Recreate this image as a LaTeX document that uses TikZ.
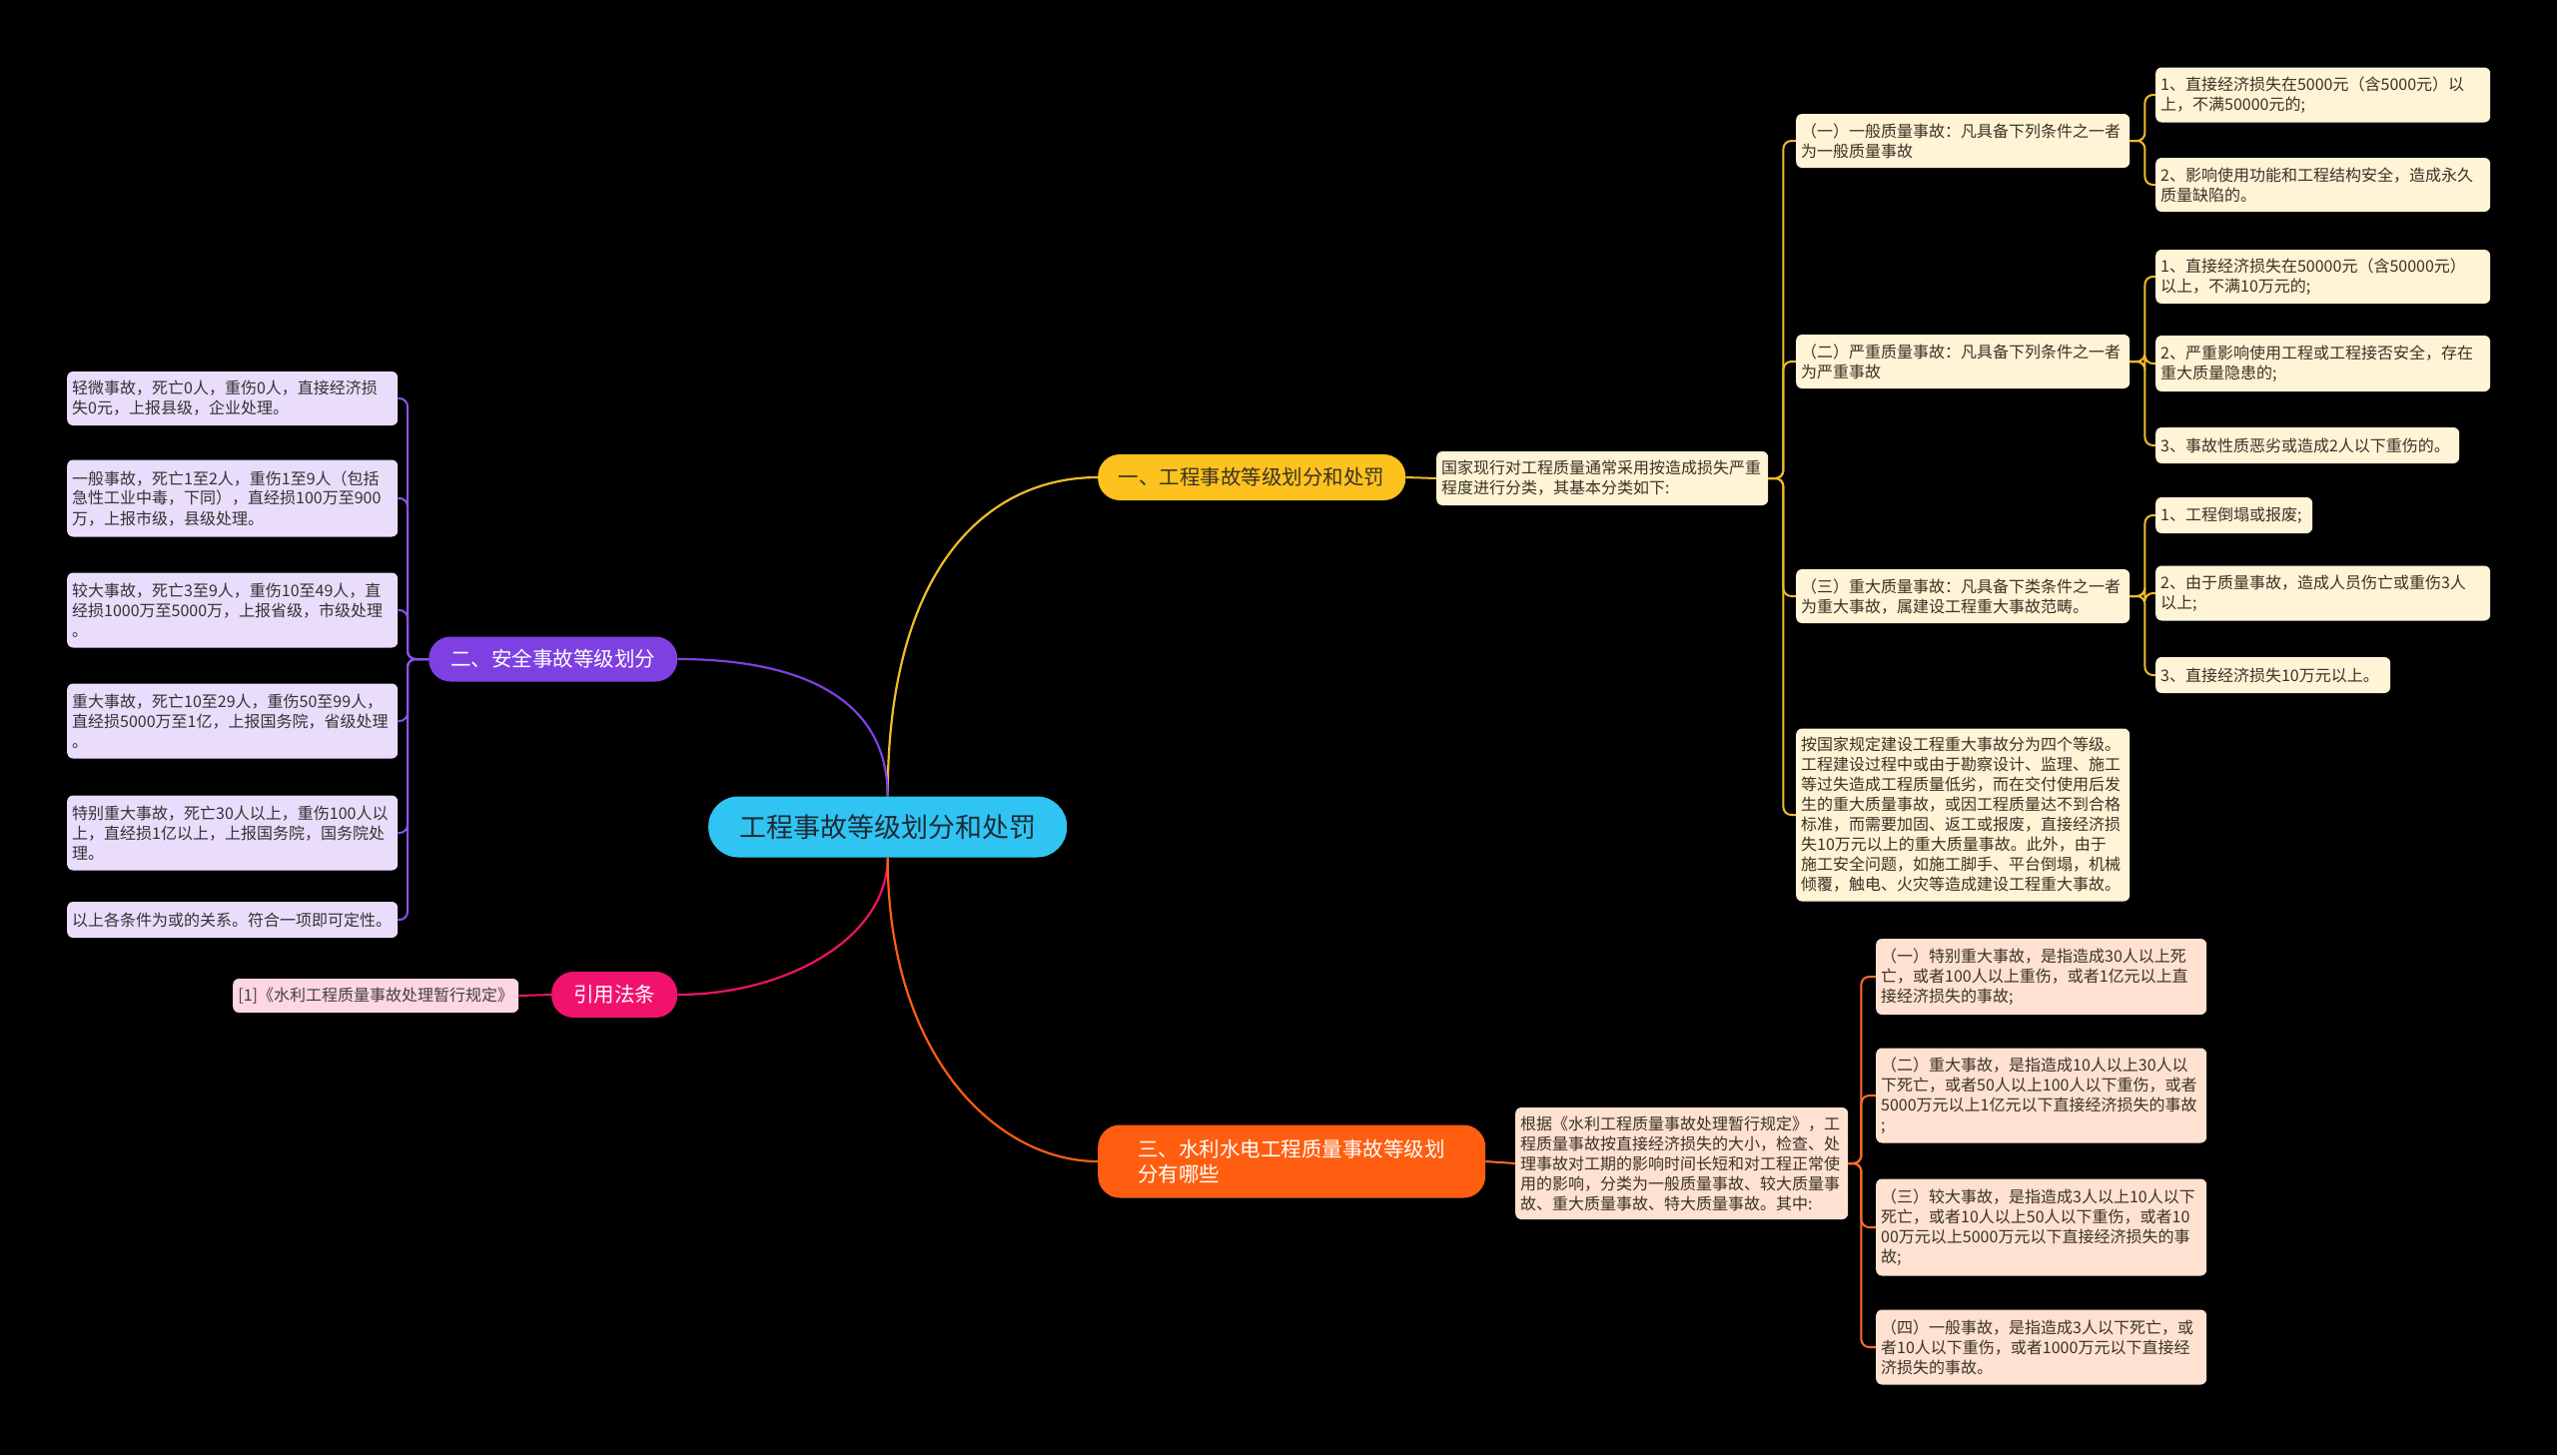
\documentclass[tikz,border=0pt]{standalone}
\usepackage{fontspec}
\setmainfont{Noto Sans CJK SC}
\usepackage{xcolor}
\usepackage{tikz}
\usetikzlibrary{positioning}
\definecolor{sky}{HTML}{30C4F2}
\definecolor{skyink}{HTML}{1C2B36}
\definecolor{gold}{HTML}{FDC21E}
\definecolor{goldline}{HTML}{F0BC2A}
\definecolor{cream}{HTML}{FFF4D5}
\definecolor{violet}{HTML}{7E40E2}
\definecolor{lilac}{HTML}{E9DDFB}
\definecolor{rose}{HTML}{F0126C}
\definecolor{blush}{HTML}{FFD6E4}
\definecolor{tangerine}{HTML}{FF5E10}
\definecolor{peach}{HTML}{FFE1D1}
\definecolor{ink}{HTML}{3A3226}
\tikzset{
  font=\fontsize{16}{20}\selectfont,
  root/.style    = {anchor=west, fill=sky, rounded corners=30pt, text=skyink,
                    minimum height=61pt, minimum width=359pt,
                    font=\fontsize{27}{32}\selectfont},
  branch/.style  = {anchor=west, rounded corners=22pt, align=left, inner xsep=0pt,
                    font=\fontsize{20.5}{25}\selectfont},
  leaf/.style    = {anchor=west, rounded corners=6pt, align=left, inner xsep=5pt,
                    inner ysep=2pt, text=ink},
  yleaf/.style   = {leaf, fill=cream},
  pleaf/.style   = {leaf, fill=lilac, text=black!80},
  kleaf/.style   = {leaf, fill=blush, align=center},
  oleaf/.style   = {leaf, fill=peach},
  ylink/.style   = {draw=goldline, line width=2pt, rounded corners=8pt},
  plink/.style   = {draw=violet!90!white, line width=2pt, rounded corners=8pt},
  klink/.style   = {draw=rose, line width=2pt},
  olink/.style   = {draw=tangerine!90!white, line width=2pt, rounded corners=8pt},
}

\begin{document}
\begin{tikzpicture}[x=1pt, y=-1pt]

\fill[black] (0,0) rectangle (2560,1457);
\useasboundingbox (0,0) rectangle (2560,1457);

% ---------------- centre ----------------------------------------------
\node[root] (root) at (709,828) {工程事故等级划分和处罚};

% ---------------- branch one: quality accidents -----------------------
\node[branch, fill=gold, text=ink, minimum width=308pt, minimum height=46pt] (l1a) at (1099,478)
  {一、工程事故等级划分和处罚};
\node[yleaf, text width=322pt, minimum height=54pt] (ydesc) at (1438,479)
  {国家现行对工程质量通常采用按造成损失严重\\程度进行分类，其基本分类如下:};

\node[yleaf, text width=324pt, minimum height=54pt] (ya) at (1798,141)
  {（一）一般质量事故：凡具备下列条件之一者\\为一般质量事故};
\node[yleaf, text width=324pt, minimum height=54pt] (yb) at (1798,362)
  {（二）严重质量事故：凡具备下列条件之一者\\为严重事故};
\node[yleaf, text width=324pt, minimum height=54pt] (yc) at (1798,597)
  {（三）重大质量事故：凡具备下类条件之一者\\为重大事故，属建设工程重大事故范畴。};
\node[yleaf, text width=324pt, minimum height=173pt] (yd) at (1798,816)
  {按国家规定建设工程重大事故分为四个等级。\\工程建设过程中或由于勘察设计、监理、施工\\等过失造成工程质量低劣，而在交付使用后发\\生的重大质量事故，或因工程质量达不到合格\\标准，而需要加固、返工或报废，直接经济损\\失10万元以上的重大质量事故。此外，由于\\施工安全问题，如施工脚手、平台倒塌，机械\\倾覆，触电、火灾等造成建设工程重大事故。};

\node[yleaf, text width=325pt, minimum height=55pt] (ya1) at (2158,95)
  {1、直接经济损失在5000元（含5000元）以\\上，不满50000元的;};
\node[yleaf, text width=325pt, minimum height=54pt] (ya2) at (2158,185)
  {2、影响使用功能和工程结构安全，造成永久\\质量缺陷的。};
\node[yleaf, text width=325pt, minimum height=54pt] (yb1) at (2158,277)
  {1、直接经济损失在50000元（含50000元）\\以上，不满10万元的;};
\node[yleaf, text width=325pt, minimum height=56pt] (yb2) at (2158,364)
  {2、严重影响使用工程或工程接否安全，存在\\重大质量隐患的;};
\node[yleaf, text width=294pt, minimum height=36pt] (yb3) at (2158,446)
  {3、事故性质恶劣或造成2人以下重伤的。};
\node[yleaf, text width=147pt, minimum height=36pt] (yc1) at (2158,516)
  {1、工程倒塌或报废;};
\node[yleaf, text width=325pt, minimum height=55pt] (yc2) at (2158,594)
  {2、由于质量事故，造成人员伤亡或重伤3人\\以上;};
\node[yleaf, text width=225pt, minimum height=36pt] (yc3) at (2158,676)
  {3、直接经济损失10万元以上。};

\draw[ylink] (l1a.east) -- (ydesc.west);
\foreach \n in {ya,yb,yc,yd}
  \draw[ylink] (ydesc.east) -- ++(15,0) |- (\n.west);
\foreach \n in {ya1,ya2}
  \draw[ylink] (ya.east) -- ++(15,0) |- (\n.west);
\foreach \n in {yb1,yb2,yb3}
  \draw[ylink] (yb.east) -- ++(15,0) |- (\n.west);
\foreach \n in {yc1,yc2,yc3}
  \draw[ylink] (yc.east) -- ++(15,0) |- (\n.west);

% ---------------- branch two: safety accidents ------------------------
\node[branch, fill=violet, text=white, minimum width=249pt, minimum height=45pt] (l1b) at (429,660)
  {二、安全事故等级划分};

\node[pleaf, text width=321pt, minimum height=54pt] (p1) at (67,399)
  {轻微事故，死亡0人，重伤0人，直接经济损\\失0元，上报县级，企业处理。};
\node[pleaf, text width=321pt, minimum height=77pt] (p2) at (67,499)
  {一般事故，死亡1至2人，重伤1至9人（包括\\急性工业中毒，下同），直经损100万至900\\万，上报市级，县级处理。};
\node[pleaf, text width=321pt, minimum height=75pt] (p3) at (67,611)
  {较大事故，死亡3至9人，重伤10至49人，直\\经损1000万至5000万，上报省级，市级处理\\。};
\node[pleaf, text width=321pt, minimum height=75pt] (p4) at (67,722)
  {重大事故，死亡10至29人，重伤50至99人，\\直经损5000万至1亿，上报国务院，省级处理\\。};
\node[pleaf, text width=321pt, minimum height=75pt] (p5) at (67,834)
  {特别重大事故，死亡30人以上，重伤100人以\\上，直经损1亿以上，上报国务院，国务院处\\理。};
\node[pleaf, text width=321pt, minimum height=36pt] (p6) at (67,921)
  {以上各条件为或的关系。符合一项即可定性。};

\foreach \n in {p1,p2,p3,p4,p5,p6}
  \draw[plink] (l1b.west) -- ++(-21,0) |- (\n.east);

% ---------------- branch three: cited regulation ----------------------
\node[branch, fill=rose, text=white, minimum width=126pt, minimum height=46pt] (l1c) at (552,996)
  {引用法条};
\node[kleaf, text width=276pt, minimum height=34pt, text=black!75] (k1) at (233,997)
  {[1]《水利工程质量事故处理暂行规定》};

\draw[klink] (l1c.west) -- (k1.east);

% ---------------- branch four: water conservancy ----------------------
\node[branch, fill=tangerine, text=white, minimum width=388pt, minimum height=73pt] (l1d) at (1099,1163)
  {三、水利水电工程质量事故等级划\\分有哪些};
\node[oleaf, text width=323pt, minimum height=112pt] (odesc) at (1517,1165)
  {根据《水利工程质量事故处理暂行规定》，工\\程质量事故按直接经济损失的大小，检查、处\\理事故对工期的影响时间长短和对工程正常使\\用的影响，分类为一般质量事故、较大质量事\\故、重大质量事故、特大质量事故。其中:};

\node[oleaf, text width=321pt, minimum height=76pt] (o1) at (1878,978)
  {（一）特别重大事故，是指造成30人以上死\\亡，或者100人以上重伤，或者1亿元以上直\\接经济损失的事故;};
\node[oleaf, text width=321pt, minimum height=95pt] (o2) at (1878,1097)
  {（二）重大事故，是指造成10人以上30人以\\下死亡，或者50人以上100人以下重伤，或者\\5000万元以上1亿元以下直接经济损失的事故\\;};
\node[oleaf, text width=321pt, minimum height=97pt] (o3) at (1878,1229)
  {（三）较大事故，是指造成3人以上10人以下\\死亡，或者10人以上50人以下重伤，或者10\\00万元以上5000万元以下直接经济损失的事\\故;};
\node[oleaf, text width=321pt, minimum height=75pt] (o4) at (1878,1349)
  {（四）一般事故，是指造成3人以下死亡，或\\者10人以下重伤，或者1000万元以下直接经\\济损失的事故。};

\draw[olink] (l1d.east) -- (odesc.west);
\foreach \n in {o1,o2,o3,o4}
  \draw[olink] (odesc.east) -- ++(13,0) |- (\n.west);

% ---------------- from the centre out ---------------------------------
\draw[goldline, line width=2.2pt] (root.north) .. controls +(0,-230) and +(-110,0) .. (l1a.west);
\draw[violet, line width=2.2pt] (root.north) .. controls +(0,-100) and +(120,0) .. (l1b.east);
\draw[rose, line width=2.2pt] (root.south) .. controls +(0,80) and +(110,0) .. (l1c.east);
\draw[tangerine, line width=2.2pt] (root.south) .. controls +(0,200) and +(-100,0) .. (l1d.west);

\end{tikzpicture}
\end{document}
